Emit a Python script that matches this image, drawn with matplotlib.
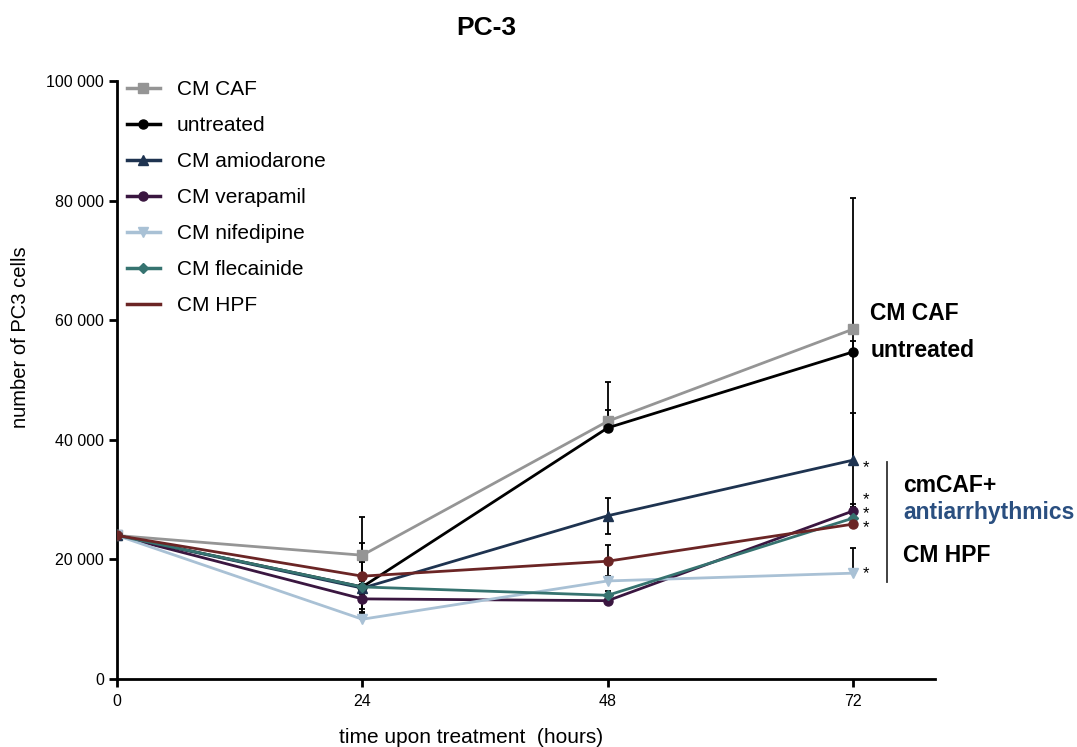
import matplotlib
matplotlib.use('Agg')
import matplotlib.pyplot as plt
from matplotlib.lines import Line2D

plt.rcParams['font.family'] = ['Liberation Sans', 'DejaVu Sans']

# time points (hours)
hours = [0, 24, 48, 72]

# mean cell numbers per condition
cm_caf = [24000, 20700, 43100, 58500]
untreated = [24000, 15400, 42000, 54700]
amiodarone = [24000, 15200, 27300, 36600]
verapamil = [24000, 13400, 13100, 28100]
nifedipine = [24000, 10000, 16400, 17700]
flecainide = [24000, 15400, 14000, 26900]
cm_hpf = [24000, 17200, 19700, 25900]

# error bars (upper / lower) per condition
hi_caf = [0, 6400, 6600, 22000]
lo_caf = [0, 6400, 0, 22000]
hi_untreated = [0, 4200, 3000, 1800]
lo_untreated = [0, 4200, 0, 0]
hi_amiodarone = [0, 1500, 3000, 7900]
lo_amiodarone = [0, 1500, 3000, 7900]
hi_verapamil = [0, 1200, 800, 1200]
lo_verapamil = [0, 0, 0, 0]
hi_nifedipine = [0, 1000, 800, 4200]
lo_nifedipine = [0, 0, 0, 0]
hi_flecainide = [0, 1000, 800, 1000]
lo_flecainide = [0, 0, 0, 0]
hi_hpf = [0, 5500, 2700, 1000]
lo_hpf = [0, 5500, 2700, 0]

series = [
    ('CM CAF', cm_caf, lo_caf, hi_caf, '#959595', 's'),
    ('untreated', untreated, lo_untreated, hi_untreated, '#000000', 'o'),
    ('CM amiodarone', amiodarone, lo_amiodarone, hi_amiodarone, '#1e3350', '^'),
    ('CM verapamil', verapamil, lo_verapamil, hi_verapamil, '#3a1640', 'o'),
    ('CM nifedipine', nifedipine, lo_nifedipine, hi_nifedipine, '#a9c1d5', 'v'),
    ('CM flecainide', flecainide, lo_flecainide, hi_flecainide, '#367370', 'D'),
    ('CM HPF', cm_hpf, lo_hpf, hi_hpf, '#6b2525', 'o'),
]

fig = plt.figure(figsize=(10.77, 7.47), dpi=100)
ax = fig.add_axes([0.1086, 0.0910, 0.7594, 0.8006])

# error bars first, beneath the lines
for name, vals, lo, hi, col, mk in series:
    ax.errorbar(hours, vals, yerr=[lo, hi], fmt='none', ecolor='black',
                elinewidth=1.3, capsize=2, capthick=1.3, zorder=1)

handles = []
for name, vals, lo, hi, col, mk in series:
    ms = 5 if mk == 'D' else 6.5
    ax.plot(hours, vals, color=col, lw=2.0, marker=mk, ms=ms,
            markeredgecolor=col, zorder=3)
    if name == 'CM HPF':
        handles.append(Line2D([], [], color=col, lw=2.5))
    else:
        handles.append(Line2D([], [], color=col, lw=2.5, marker=mk, ms=ms,
                              markeredgecolor=col))

leg = ax.legend(handles, [s[0] for s in series], loc='upper left',
                bbox_to_anchor=(-0.011, 1.033), frameon=False, fontsize=15,
                handlelength=1.6, handletextpad=0.8, labelspacing=0.82)

ax.set_xlim(0, 80)
ax.set_ylim(0, 100000)
ax.set_xticks([0, 24, 48, 72])
ax.set_yticks([0, 20000, 40000, 60000, 80000, 100000])
ax.set_yticklabels(['0', '20 000', '40 000', '60 000', '80 000', '100 000'])
ax.tick_params(axis='both', direction='out', length=6, width=2, labelsize=11.5)
ax.tick_params(axis='x', pad=5)
ax.spines['top'].set_visible(False)
ax.spines['right'].set_visible(False)
ax.spines['left'].set_linewidth(2)
ax.spines['bottom'].set_linewidth(2)

fig.text(0.452, 0.963, 'PC-3', ha='center', va='center', fontsize=19,
         fontweight='bold')
fig.text(0.437, 0.013, 'time upon treatment  (hours)', ha='center',
         va='center', fontsize=15)
fig.text(0.019, 0.549, 'number of PC3 cells', ha='center', va='center',
         rotation=90, fontsize=14.5)

# annotations on the right
ax.text(73.7, 61200, 'CM CAF', fontsize=16.5, fontweight='bold', va='center')
ax.text(73.7, 55000, 'untreated', fontsize=16.5, fontweight='bold', va='center')
for yv in [35400, 30000, 27600, 25300, 17600]:
    ax.text(73.3, yv, '*', fontsize=12, va='center', ha='center')
ax.plot([75.35, 75.35], [16200, 36300], color='#333333', lw=1.3, clip_on=False)
ax.text(76.9, 32400, 'cmCAF+', fontsize=16.5, fontweight='bold', va='center')
ax.text(76.9, 27900, 'antiarrhythmics', fontsize=16.5, fontweight='bold',
        va='center', color='#2a4f80')
ax.text(76.9, 20600, 'CM HPF', fontsize=16.5, fontweight='bold', va='center')

plt.savefig('out.png', dpi=100)
